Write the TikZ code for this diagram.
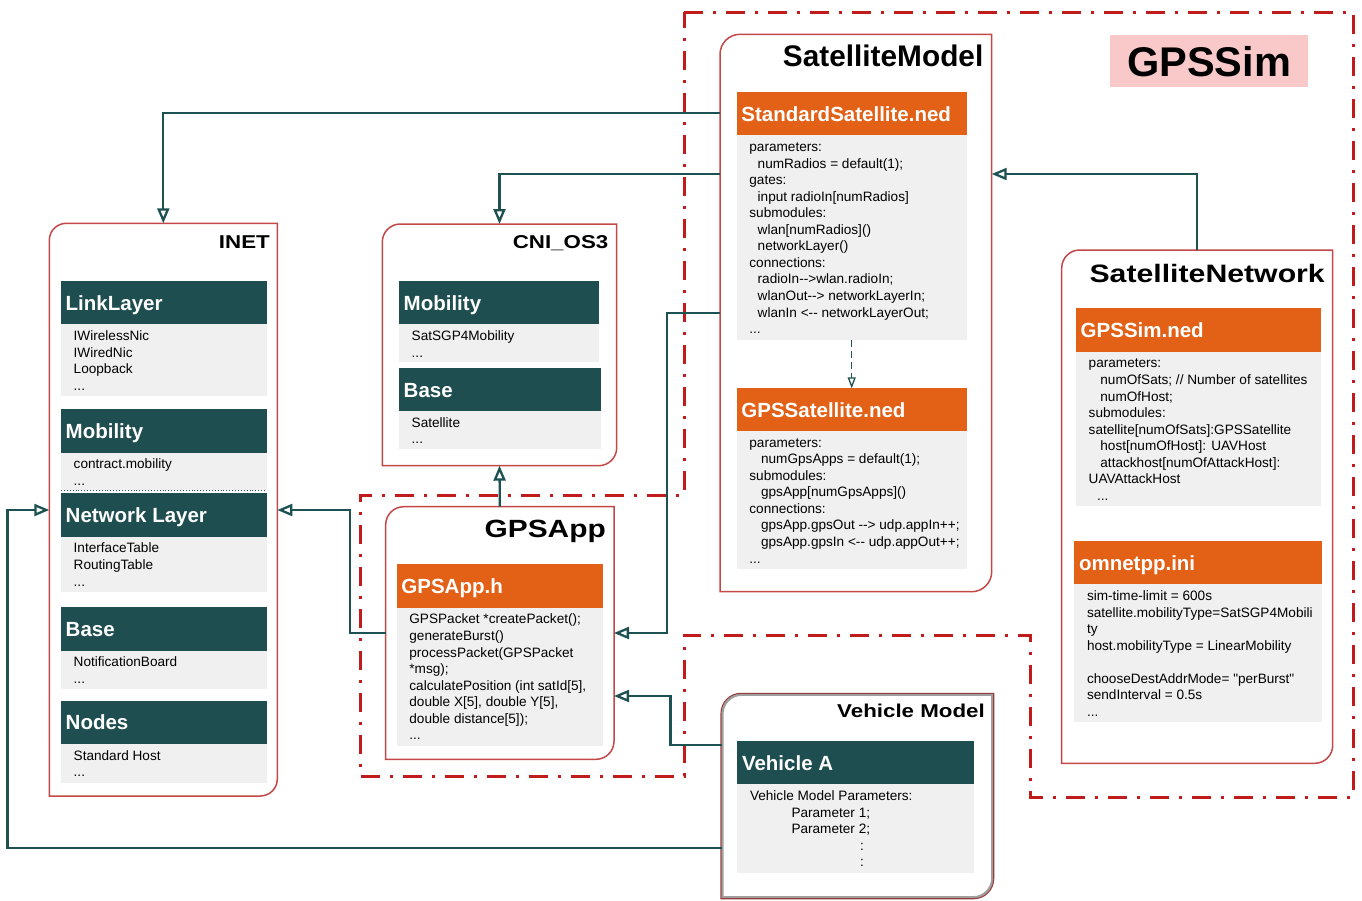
\documentclass[tikz,border=0pt]{standalone}
\usepackage{fontspec}
\setmainfont{Liberation Sans}[Ligatures=TeXOff]
\newfontfamily\widefont[FakeStretch=1.2]{Liberation Sans}
\usetikzlibrary{arrows.meta}
\definecolor{frred}{RGB}{196,72,72}
\definecolor{vhred}{RGB}{150,60,60}
\definecolor{ddred}{RGB}{192,28,28}
\definecolor{tealh}{RGB}{31,78,80}
\definecolor{orng}{RGB}{227,97,22}
\definecolor{bodyg}{RGB}{240,240,240}
\definecolor{connc}{RGB}{30,82,82}
\definecolor{pinkb}{RGB}{249,201,201}
\tikzset{
  frmnode/.style={anchor=north west, inner sep=0pt, outer sep=0pt, draw=none},
  frameline/.style={draw=frred, line width=1.5pt, fill=white},
  conn/.style={draw=connc, line width=2.3pt, -{Triangle[open,length=15pt,width=12pt]}},
  dconn/.style={draw=connc, line width=1.3pt, dash pattern=on 7pt off 4pt, -{Triangle[open,length=11pt,width=8pt]}},
  dd/.style={draw=ddred, line width=3pt, dash pattern=on 19pt off 10pt on 3pt off 10pt},
  hdrbox/.style={anchor=north west, inner sep=0pt, outer sep=0pt, draw=none},
  bodybox/.style={anchor=north west, inner sep=0pt, outer sep=0pt, fill=bodyg},
  hdrtext/.style={anchor=west, inner sep=0pt, text=white, font=\fontsize{20.5}{24}\selectfont\bfseries, text height=14.7pt, text depth=0pt},
  bodytext/.style={anchor=north west, inner sep=0pt, align=left, font=\fontsize{13.6}{16.55}\selectfont, text=black},
  wtitle/.style={anchor=base east, inner sep=0pt, font=\widefont\bfseries\fontsize{#1}{#1}\selectfont},
  ntitle/.style={anchor=base east, inner sep=0pt, font=\bfseries\fontsize{#1}{#1}\selectfont}
}
% name, x1, x2, ytop, yhead-bottom, ybody-bottom, color, title, body
\newcommand\panel[9]{%
  \node[hdrbox, fill=#7, minimum width={#3-#2}, minimum height={#5-#4}] (#1-head) at (#2,#4) {};
  \node[hdrtext, xshift=4.5pt] (#1-title) at (#1-head.west) {#8};
  \node[bodybox, minimum width={#3-#2}, minimum height={#6-#5}] (#1-body) at (#2,#5) {};
  \node[bodytext, xshift=12.5pt, yshift=-5pt] (#1-text) at (#1-body.north west) {\rule{0pt}{11pt}#9};
}
% name, x1, y1, x2, y2
\newcommand\frmnd[5]{%
  \node[frmnode, minimum width={#4-#2}, minimum height={#5-#3}] (#1) at (#2,#3) {};
}
% x1, y1, x2, y2, r, style
\newcommand\frmpath[6]{%
  \path[#6] (#1,#4) -- (#1,#2+#5) .. controls (#1,#2+0.448*#5) and (#1+0.448*#5,#2) .. (#1+#5,#2)
    -- (#3,#2) -- (#3,#4-#5) .. controls (#3,#4-0.448*#5) and (#3-0.448*#5,#4) .. (#3-#5,#4) -- cycle;
}
\begin{document}
\begin{tikzpicture}[x=1pt,y=-1pt]
\useasboundingbox[fill=white] (0,0) rectangle (1362,900);

% dash-dot region GPSSim
\draw[dd] (684,12) -- (1353,12) -- (1353,797) -- (1030,797) -- (1030,635) -- (684,635)
  -- (684,776) -- (360,776) -- (360,495) -- (684,495) -- cycle;

% GPSSim label
\node[fill=pinkb, inner sep=0pt, anchor=north west, minimum width=198, minimum height=52,
  font=\bfseries\fontsize{41.5}{44}\selectfont] (gpssimlbl) at (1110,35) {GPSSim};

% frames
\frmnd{inet}{49.3}{223.3}{277.3}{796}
\frmpath{49.3}{223.3}{277.3}{796}{17}{frameline}
\frmnd{cni}{382.3}{224}{616.7}{465.7}
\frmpath{382.3}{224}{616.7}{465.7}{18}{frameline}
\frmnd{gpsapp}{385.7}{506.7}{614}{759.3}
\frmpath{385.7}{506.7}{614}{759.3}{18}{frameline}
\frmnd{satmodel}{720}{34.3}{991.7}{591.7}
\frmpath{720}{34.3}{991.7}{591.7}{20}{frameline}
\frmnd{satnet}{1061.7}{250}{1332.7}{763.3}
\frmpath{1061.7}{250}{1332.7}{763.3}{18}{frameline}
\frmnd{vehicle}{721.7}{694}{993}{898}
\frmpath{722.5}{694.8}{992.2}{897.2}{19}{draw=gray!75, line width=2.2pt, fill=white}
\frmpath{721}{693.3}{993.7}{898.7}{20}{draw=vhred, line width=1.1pt}

% titles
\node[wtitle=18.6] (inet-t) at (270,248.5) {INET};
\node[wtitle=18.6] (cni-t) at (608.5,248.5) {CNI\_OS3};
\node[wtitle=24.9] (gpsapp-t) at (606,537.7) {GPSApp};
\node[ntitle=29.8] (satmodel-t) at (983.5,66.7) {SatelliteModel};
\node[wtitle=25.2] (satnet-t) at (1325,282.7) {SatelliteNetwork};
\node[wtitle=18.6] (vehicle-t) at (985,717.7) {Vehicle Model};

% INET panels
\panel{linkl}{61}{266.7}{281}{324.3}{396}{tealh}{LinkLayer}{IWirelessNic\\IWiredNic\\Loopback\\...}
\panel{imob}{61}{266.7}{409.3}{452.7}{490}{tealh}{Mobility}{contract.mobility\\...}
\draw[connc, line width=0.9pt, dotted] (imob-body.south west) -- (imob-body.south east);
\panel{netl}{61}{266.7}{493.3}{536.7}{591.7}{tealh}{Network Layer}{InterfaceTable\\RoutingTable\\...}
\panel{ibase}{61}{266.7}{607.3}{650.7}{689}{tealh}{Base}{NotificationBoard\\...}
\panel{nodes}{61}{266.7}{700.7}{744}{782.7}{tealh}{Nodes}{Standard Host\\...}

% CNI_OS3 panels
\panel{cmob}{399}{599}{281}{324.3}{362.3}{tealh}{Mobility}{SatSGP4Mobility\\...}
\panel{cbase}{399}{600.7}{368.3}{411}{449.3}{tealh}{Base}{Satellite\\...}

% GPSApp
\panel{gpsh}{396.7}{602.7}{564.3}{607.7}{745.7}{orng}{GPSApp.h}{GPSPacket {*}createPacket();\\generateBurst()\\processPacket(GPSPacket\\{*}msg);\\calculatePosition (int satId[5],\\double X[5], double Y[5],\\double distance[5]);\\...}

% SatelliteModel
\panel{stdsat}{736.7}{966.7}{92}{135.3}{340}{orng}{StandardSatellite.ned}{parameters:\\\hspace*{8.3pt}numRadios = default(1);\\gates:\\\hspace*{8.3pt}input radioIn[numRadios]\\submodules:\\\hspace*{8.3pt}wlan[numRadios]()\\\hspace*{8.3pt}networkLayer()\\connections:\\\hspace*{8.3pt}radioIn-->wlan.radioIn;\\\hspace*{8.3pt}wlanOut--> networkLayerIn;\\\hspace*{8.3pt}wlanIn <-- networkLayerOut;\\...}
\panel{gpssat}{736.7}{966.7}{388.3}{431}{569}{orng}{GPSSatellite.ned}{parameters:\\\hspace*{11.7pt}numGpsApps = default(1);\\submodules:\\\hspace*{11.7pt}gpsApp[numGpsApps]()\\connections:\\\hspace*{11.7pt}gpsApp.gpsOut --> udp.appIn++;\\\hspace*{11.7pt}gpsApp.gpsIn <-- udp.appOut++;\\...}

% SatelliteNetwork
\panel{simned}{1076}{1320.7}{308.3}{351.7}{505.7}{orng}{GPSSim.ned}{parameters:\\\hspace*{11.7pt}numOfSats; // Number of satellites\\\hspace*{11.7pt}numOfHost;\\submodules:\\satellite[numOfSats]:GPSSatellite\\\hspace*{11.7pt}host[numOfHost]: UAVHost\\\hspace*{11.7pt}attackhost[numOfAttackHost]:\\UAVAttackHost\\\hspace*{8.4pt}...}
\panel{ini}{1074.3}{1321.7}{541}{584.3}{721.7}{orng}{omnetpp.ini}{sim-time-limit = 600s\\satellite.mobilityType=SatSGP4Mobili\\ty\\host.mobilityType = LinearMobility\\\mbox{}\\chooseDestAddrMode= "perBurst"\\sendInterval = 0.5s\\...}

% Vehicle
\panel{veha}{737.3}{974.3}{741}{784.3}{872.7}{tealh}{Vehicle A}{Vehicle Model Parameters:\\\hspace*{41.5pt}Parameter 1;\\\hspace*{41.5pt}Parameter 2;\\\hspace*{110pt}:\\\hspace*{110pt}:}

% connectors
\draw[conn] (satmodel.west |- 0,113.3) -| (inet.north);
\draw[conn] (satmodel.west |- 0,174) -| (cni.north);
\draw[conn] (satmodel.west |- 0,312.7) -- ++(-53,0) |- (gpsapp.east |- 0,633);
\draw[conn] (gpsapp.north) -- (cni.south);
\draw[conn] (gpsapp.west |- 0,633) -- ++(-35.7,0) |- (inet.east |- 0,510);
\draw[conn] (satnet.north) |- (satmodel.east |- 0,174);
\draw[conn] (vehicle.west |- 0,745) -- ++(-51.2,0) |- (gpsapp.east |- 0,696);
\draw[conn] (vehicle.west |- 0,848.3) -- ++(-714.2,0) |- (inet.west |- 0,510);
\draw[dconn] (stdsat-body.south) -- (gpssat-head.north);
\end{tikzpicture}
\end{document}
